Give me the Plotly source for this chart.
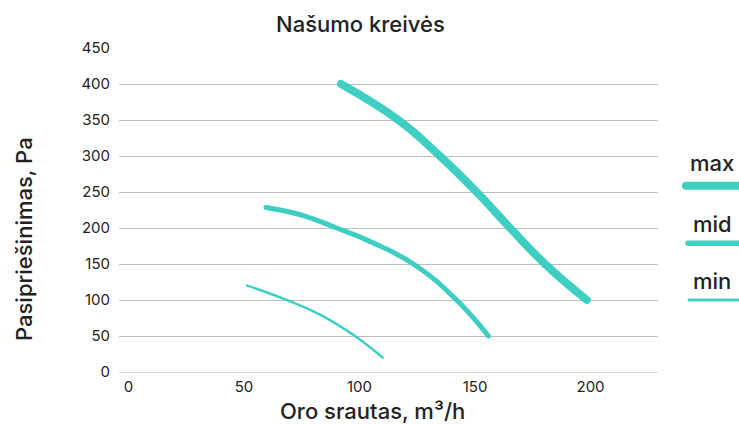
import plotly.graph_objects as go

# Data
max_x = [92, 116.8, 134.8, 150.7, 165.2, 180.3, 198.4]
max_y = [400, 350, 300, 250, 200, 150, 100]
mid_x = [59.5, 75, 90.1, 104.5, 123.3, 142, 155.8]
mid_y = [228.6, 218, 200, 181.4, 150, 100, 50]
min_x = [51.4, 68.5, 82.9, 98, 110]
min_y = [120, 100, 79.6, 50, 20]

series_names = ["max", "mid", "min"]
x_ticks = [0, 50, 100, 150, 200]
y_ticks = [0, 50, 100, 150, 200, 250, 300, 350, 400, 450]

title_text = "Našumo kreivės"
x_title = "Oro srautas, m³/h"
y_title = "Pasipriešinimas, Pa"

COLOR = "#3ecfc2"
FONT = "Inter"
TXT = "#222222"

W, H = 739, 425
L, R, T, B = 119, 658, 48, 372

def px(x):
    return (x - L) / (R - L)

def py(y):
    return (B - y) / (B - T)

fig = go.Figure()
widths = [8, 5, 2.5]
for name, xs, ys, w in zip(series_names, [max_x, mid_x, min_x], [max_y, mid_y, min_y], widths):
    fig.add_trace(go.Scatter(x=xs, y=ys, mode="lines", name=name,
                             line=dict(color=COLOR, width=w, shape="spline", smoothing=1.3),
                             showlegend=False, hoverinfo="skip"))

annotations = [
    dict(text=title_text, x=px(360), y=py(24), xref="paper", yref="paper",
         showarrow=False, font=dict(family=FONT, size=22, color=TXT, weight=500),
         xanchor="center", yanchor="middle"),
    dict(text=x_title, x=px(372), y=py(411), xref="paper", yref="paper",
         showarrow=False, font=dict(family=FONT, size=22, color=TXT, weight=500),
         xanchor="center", yanchor="middle"),
    dict(text=y_title, x=px(24), y=py(239), xref="paper", yref="paper",
         showarrow=False, textangle=-90, font=dict(family=FONT, size=22, color=TXT, weight=500),
         xanchor="center", yanchor="middle"),
]
shapes = []
leg_text_y = [163, 224, 281]
leg_line_y = [185.7, 243.3, 300]
leg_line_x0 = [686, 688, 689]
leg_w = [8, 5.5, 3]
for name, ty, ly, lx, lw in zip(series_names, leg_text_y, leg_line_y, leg_line_x0, leg_w):
    annotations.append(dict(text=name, x=px(712), y=py(ty), xref="paper", yref="paper",
                            showarrow=False, font=dict(family=FONT, size=22, color=TXT, weight=500),
                            xanchor="center", yanchor="middle"))
    shapes.append(dict(type="line", xref="paper", yref="paper",
                       x0=px(lx), x1=px(760), y0=py(ly), y1=py(ly),
                       line=dict(color=COLOR, width=lw)))

fig.update_layout(
    width=W, height=H,
    margin=dict(l=L, r=W - R, t=T, b=H - B),
    paper_bgcolor="white", plot_bgcolor="white",
    annotations=annotations, shapes=shapes,
    showlegend=False,
    xaxis=dict(range=[-4.1, 229.2], tickvals=x_ticks, ticktext=[str(v) for v in x_ticks],
               showgrid=False, zeroline=False, showline=True, linecolor="#d8d8d8", linewidth=1,
               ticks="", tickfont=dict(family=FONT, size=15, color=TXT), ticklabelstandoff=1),
    yaxis=dict(range=[0, 450], tickvals=y_ticks, ticktext=[str(v) for v in y_ticks],
               showgrid=True, gridcolor="#bdbdbd", gridwidth=1, zeroline=False, showline=False,
               ticks="", tickfont=dict(family=FONT, size=15, color=TXT), ticklabelstandoff=8),
)

post = """
document.body.style.margin='0px';
function roundCaps(){
  document.querySelectorAll('.scatterlayer path.js-line, .layer-above path, .shapelayer path').forEach(function(p){
    p.style.strokeLinecap='round';
  });
}
roundCaps();
var gd = document.querySelector('.plotly-graph-div');
if (gd && gd.on) { gd.on('plotly_afterplot', roundCaps); }
"""
fig.write_html("out.html", post_script=post, config={"displayModeBar": False})
